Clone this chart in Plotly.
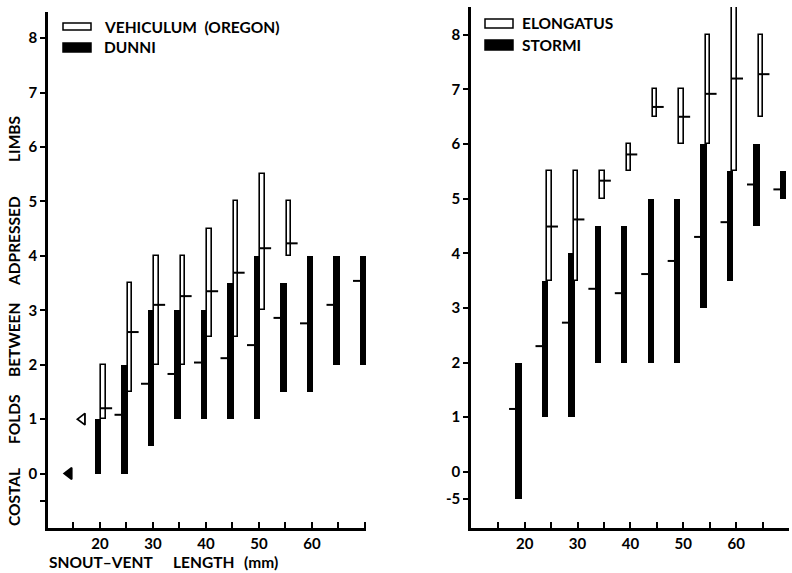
import plotly.graph_objects as go

# ---- Left panel: vehiculum (Oregon) and dunni ----
dunni_svl = [20, 25, 30, 35, 40, 45, 50, 55, 60, 65, 70]
dunni_low = [0, 0, 0.5, 1, 1, 1, 1, 1.5, 1.5, 2, 2]
dunni_high = [1, 2, 3, 3, 3, 3.5, 4, 3.5, 4, 4, 4]
dunni_mean = [None, 1.08, 1.65, 1.83, 2.04, 2.12, 2.36, 2.86, 2.76, 3.1, 3.54]

veh_svl = [20, 25, 30, 35, 40, 45, 50, 55]
veh_low = [1, 1.5, 2, 2, 2.5, 2.5, 3, 4]
veh_high = [2, 3.5, 4, 4, 4.5, 5, 5.5, 5]
veh_mean = [1.2, 2.6, 3.1, 3.26, 3.35, 3.69, 4.14, 4.23]

# reference points drawn as triangles beside the axis
ref_x = [14.2, 16.7]
ref_y = [0, 1]

# ---- Right panel: elongatus and stormi ----
stormi_svl = [20, 25, 30, 35, 40, 45, 50, 55, 60, 65, 70]
stormi_low = [-0.5, 1, 1, 2, 2, 2, 2, 3, 3.5, 4.5, 5]
stormi_high = [2, 3.5, 4, 4.5, 4.5, 5, 5, 6, 5.5, 6, 5.5]
stormi_mean = [1.15, 2.3, 2.73, 3.35, 3.27, 3.62, 3.86, 4.3, 4.57, 5.26, 5.17]

elong_svl = [25, 30, 35, 40, 45, 50, 55, 60, 65]
elong_low = [3.5, 3.5, 5, 5.5, 6.5, 6, 6, 5.5, 6.5]
elong_high = [5.5, 5.5, 5.5, 6, 7, 7, 8, 8.6, 8]
elong_mean = [4.49, 4.62, 5.33, 5.81, 6.68, 6.5, 6.92, 7.2, 7.28]

# axis ticks
x_tickvals = [15, 20, 25, 30, 35, 40, 45, 50, 55, 60, 65, 70]
x_ticktext = ["", "20", "", "30", "", "40", "", "50", "", "60", "", ""]
y_tickvals = [-0.5, 0, 1, 2, 3, 4, 5, 6, 7, 8]
y_ticktext_left = ["", "0", "1", "2", "3", "4", "5", "6", "7", "8"]
y_ticktext_right = ["-5", "0", "1", "2", "3", "4", "5", "6", "7", "8"]

FONT = "Lato"
W, H = 792, 573


def px_x(p):
    return p / W


def px_y(p):
    return (H - p) / H


def range_bars(svl, low, high, shift, width, filled, xa, ya):
    xs = [s + shift for s in svl]
    return go.Bar(
        x=xs, base=low, y=[h - l for h, l in zip(high, low)], width=width,
        marker=dict(color="black" if filled else "white",
                    line=dict(color="black", width=0 if filled else 1.6)),
        xaxis=xa, yaxis=ya, showlegend=False, hoverinfo="skip",
    )


def mean_ticks(svl, mean, shift, left, right, xa, ya):
    xs, ys = [], []
    for s, m in zip(svl, mean):
        if m is None:
            continue
        c = s + shift
        xs += [c - left, c + right, None]
        ys += [m, m, None]
    return go.Scatter(x=xs, y=ys, mode="lines", line=dict(color="black", width=2),
                      xaxis=xa, yaxis=ya, showlegend=False, hoverinfo="skip")


fig = go.Figure()

# left panel
fig.add_trace(range_bars(dunni_svl, dunni_low, dunni_high, -0.4, 1.25, True, "x", "y"))
fig.add_trace(range_bars(veh_svl, veh_low, veh_high, 0.65, 0.85, False, "x", "y"))
fig.add_trace(mean_ticks(dunni_svl, dunni_mean, -0.4, 1.85, 0.0, "x", "y"))
fig.add_trace(mean_ticks(veh_svl, veh_mean, 0.65, 0.55, 1.65, "x", "y"))
fig.add_trace(go.Scatter(
    x=ref_x, y=ref_y, mode="markers",
    marker=dict(symbol=["triangle-left", "triangle-left-open"], size=10,
                color="black", line=dict(color="black", width=1.8)),
    xaxis="x", yaxis="y", showlegend=False, hoverinfo="skip"))

# right panel
fig.add_trace(range_bars(stormi_svl, stormi_low, stormi_high, -1.15, 1.2, True, "x2", "y2"))
fig.add_trace(range_bars(elong_svl, elong_low, elong_high, -0.3, 0.85, False, "x2", "y2"))
fig.add_trace(mean_ticks(stormi_svl, stormi_mean, -1.15, 1.8, 0.0, "x2", "y2"))
fig.add_trace(mean_ticks(elong_svl, elong_mean, -0.3, 0.55, 1.6, "x2", "y2"))

axis_common = dict(showgrid=False, zeroline=False, showline=True, linecolor="black",
                   linewidth=2.5, tickcolor="black", tickwidth=2,
                   tickfont=dict(family=FONT, size=15, color="black", weight=700))

fig.update_layout(
    width=W, height=H, margin=dict(l=0, r=0, t=0, b=0),
    paper_bgcolor="white", plot_bgcolor="white",
    barmode="overlay", bargap=0,
    font=dict(family=FONT, color="black"),
    xaxis=dict(domain=[px_x(48), px_x(366)], range=[10.2, 70.2], anchor="y",
               tickvals=x_tickvals, ticktext=x_ticktext, ticks="inside", ticklen=6,
               **axis_common),
    yaxis=dict(domain=[px_y(528), px_y(12)], range=[-1.0, 8.48], anchor="x",
               tickvals=y_tickvals, ticktext=y_ticktext_left, ticks="outside", ticklen=5,
               **axis_common),
    xaxis2=dict(domain=[px_x(471), px_x(789)], range=[9.85, 70.0], anchor="y2",
                tickvals=x_tickvals, ticktext=x_ticktext, ticks="inside", ticklen=6,
                **axis_common),
    yaxis2=dict(domain=[px_y(528), px_y(7)], range=[-1.03, 8.51], anchor="x2",
                tickvals=y_tickvals, ticktext=y_ticktext_right, ticks="outside", ticklen=5,
                **axis_common),
)

# legend keys
legend_keys = [
    (63, 91, 23, 30, "white"), (63, 91, 43, 52, "black"),
    (485, 513, 19, 28, "white"), (485, 513, 40, 50, "black"),
]
for x0, x1, y0, y1, fill in legend_keys:
    fig.add_shape(type="rect", xref="paper", yref="paper",
                  x0=px_x(x0), x1=px_x(x1), y0=px_y(y1), y1=px_y(y0),
                  fillcolor=fill, line=dict(color="black", width=1.5))

label_font = dict(family=FONT, size=15.5, color="black", weight=700)
legend_labels = [
    (102, 27, "VEHICULUM\u00a0\u00a0(OREGON)"), (102, 47, "DUNNI"),
    (520, 23, "ELONGATUS"), (520, 45, "STORMI"),
]
for x, y, t in legend_labels:
    fig.add_annotation(text=t, xref="paper", yref="paper", x=px_x(x), y=px_y(y),
                       xanchor="left", yanchor="middle", showarrow=False, font=label_font)

# y-axis title, words spread along the axis
y_words = [(497, "COSTAL"), (419, "FOLDS"), (340, "BETWEEN"), (241, "ADPRESSED"), (139, "LIMBS")]
for y, t in y_words:
    fig.add_annotation(text=t, xref="paper", yref="paper", x=px_x(14), y=px_y(y),
                       xanchor="center", yanchor="middle", textangle=-90,
                       showarrow=False, font=label_font)

# x-axis title, words spread under the left panel
x_words = [(47, "SNOUT\u2013VENT"), (171, "LENGTH"), (242, "(mm)")]
for x, t in x_words:
    fig.add_annotation(text=t, xref="paper", yref="paper", x=px_x(x), y=px_y(562),
                       xanchor="left", yanchor="middle", showarrow=False, font=label_font)

fig.write_html("out.html")
